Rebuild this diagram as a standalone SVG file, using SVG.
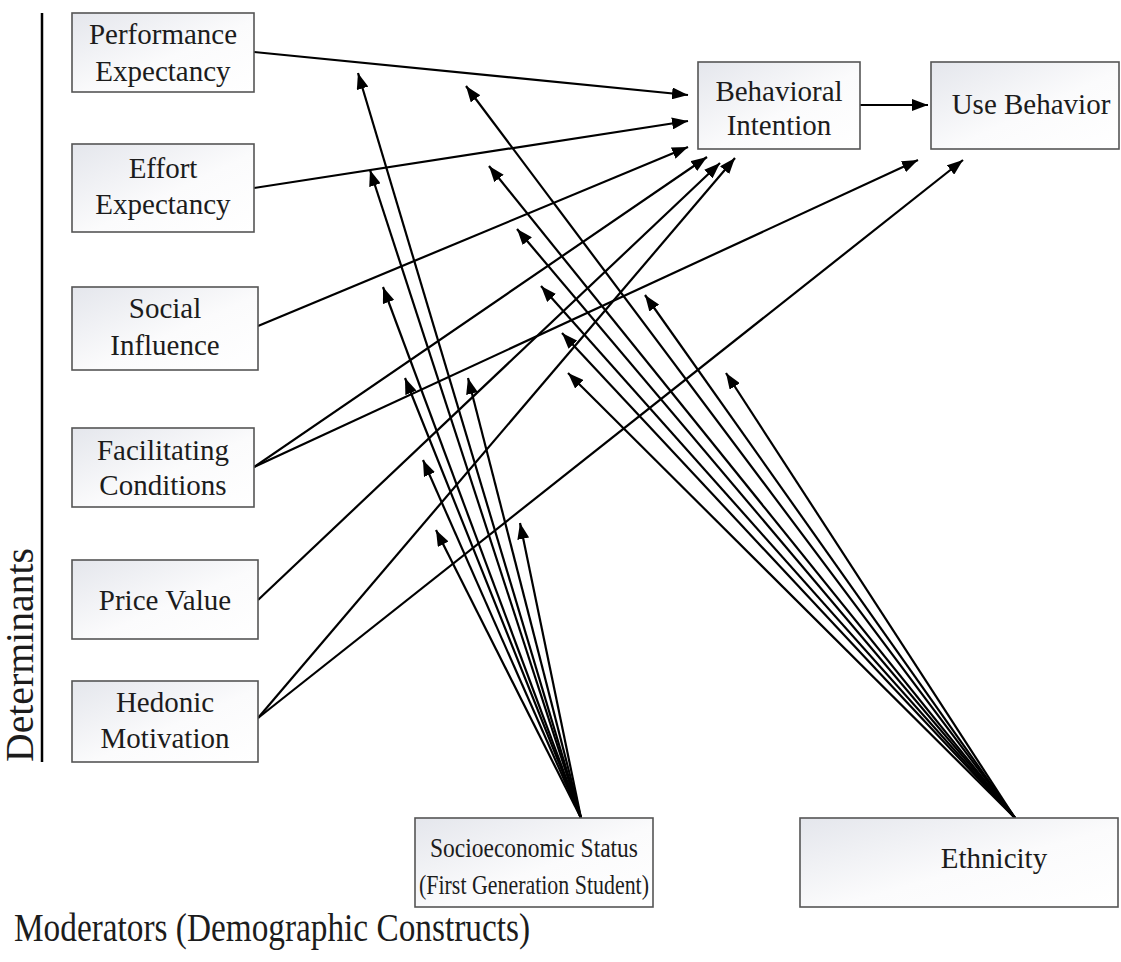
<svg xmlns="http://www.w3.org/2000/svg" width="1121" height="962" viewBox="0 0 1121 962">
<defs>
<linearGradient id="bg" x1="0" y1="0" x2="1" y2="1">
<stop offset="0" stop-color="#e4e6ec"/>
<stop offset="0.55" stop-color="#fbfbfc"/>
<stop offset="1" stop-color="#ffffff"/>
</linearGradient>
<marker id="ah" viewBox="0 0 16 12" refX="16" refY="6" markerWidth="16" markerHeight="12" markerUnits="userSpaceOnUse" orient="auto">
<path d="M0,0 L16,6 L0,12 z" fill="#000"/>
</marker>
</defs>
<style>
.box{fill:url(#bg);stroke:#555;stroke-width:1.6}
.t{font-family:"Liberation Serif","Times New Roman",serif;font-size:29px;fill:#1c1c1c;text-anchor:middle}
.s{font-family:"Liberation Serif","Times New Roman",serif;font-size:28px;fill:#1c1c1c;text-anchor:middle}
.c{stroke:#000;stroke-width:2.2;fill:none;marker-end:url(#ah)}
.big{font-family:"Liberation Serif","Times New Roman",serif;font-size:39px;fill:#1c1c1c}
</style>
<rect width="1121" height="962" fill="#fff"/>
<line x1="42" y1="13" x2="42" y2="762" stroke="#000" stroke-width="2.5"/>
<text class="big" transform="translate(33,762) rotate(-90)" textLength="214" lengthAdjust="spacingAndGlyphs">Determinants</text>
<text class="big" x="14" y="941" textLength="516" lengthAdjust="spacingAndGlyphs">Moderators (Demographic Constructs)</text>

<g id="connectors">
<line class="c" x1="254" y1="52" x2="688" y2="95"/>
<line class="c" x1="254" y1="188" x2="688" y2="121"/>
<line class="c" x1="258" y1="326" x2="688" y2="147"/>
<line class="c" x1="254" y1="467" x2="707" y2="157"/>
<line class="c" x1="254" y1="467" x2="918" y2="160"/>
<line class="c" x1="258" y1="600" x2="720" y2="163"/>
<line class="c" x1="258" y1="718" x2="735" y2="158"/>
<line class="c" x1="258" y1="718" x2="963" y2="160"/>
<line class="c" x1="860" y1="105" x2="928" y2="105"/>
<line class="c" x1="581" y1="818" x2="358" y2="73"/>
<line class="c" x1="581" y1="818" x2="370" y2="170"/>
<line class="c" x1="581" y1="818" x2="383" y2="287"/>
<line class="c" x1="581" y1="818" x2="405" y2="378"/>
<line class="c" x1="581" y1="818" x2="468" y2="378"/>
<line class="c" x1="581" y1="818" x2="423" y2="460"/>
<line class="c" x1="581" y1="818" x2="436" y2="530"/>
<line class="c" x1="581" y1="818" x2="520" y2="523"/>
<line class="c" x1="1015" y1="818" x2="466" y2="86"/>
<line class="c" x1="1015" y1="818" x2="489" y2="166"/>
<line class="c" x1="1015" y1="818" x2="517" y2="229"/>
<line class="c" x1="1015" y1="818" x2="541" y2="286"/>
<line class="c" x1="1015" y1="818" x2="562" y2="333"/>
<line class="c" x1="1015" y1="818" x2="568" y2="373"/>
<line class="c" x1="1015" y1="818" x2="645" y2="295"/>
<line class="c" x1="1015" y1="818" x2="726" y2="373"/>
</g>

<g id="pe"><rect class="box" x="72" y="13" width="182" height="79"/><text class="t" x="163" y="44">Performance</text><text class="t" x="163" y="81">Expectancy</text></g>
<g id="ee"><rect class="box" x="72" y="144" width="182" height="88"/><text class="t" x="163" y="178">Effort</text><text class="t" x="163" y="214">Expectancy</text></g>
<g id="si"><rect class="box" x="72" y="287" width="186" height="83"/><text class="t" x="165" y="318">Social</text><text class="t" x="165" y="355">Influence</text></g>
<g id="fc"><rect class="box" x="72" y="428" width="182" height="79"/><text class="t" x="163" y="460">Facilitating</text><text class="t" x="163" y="495">Conditions</text></g>
<g id="pv"><rect class="box" x="72" y="560" width="186" height="79"/><text class="t" x="165" y="610">Price Value</text></g>
<g id="hm"><rect class="box" x="72" y="681" width="186" height="81"/><text class="t" x="165" y="712">Hedonic</text><text class="t" x="165" y="748">Motivation</text></g>
<g id="bi"><rect class="box" x="698" y="62" width="162" height="87"/><text class="t" x="779" y="101">Behavioral</text><text class="t" x="779" y="135">Intention</text></g>
<g id="ub"><rect class="box" x="931" y="62" width="188" height="87"/><text class="t" x="1031" y="114">Use Behavior</text></g>
<g id="ses"><rect class="box" x="415" y="818" width="238" height="89"/><text class="s" x="534" y="857" textLength="208" lengthAdjust="spacingAndGlyphs">Socioeconomic Status</text><text class="s" x="534" y="894" textLength="230" lengthAdjust="spacingAndGlyphs">(First Generation Student)</text></g>
<g id="eth"><rect class="box" x="800" y="818" width="318" height="89"/><text class="t" x="994" y="868">Ethnicity</text></g>
</svg>
